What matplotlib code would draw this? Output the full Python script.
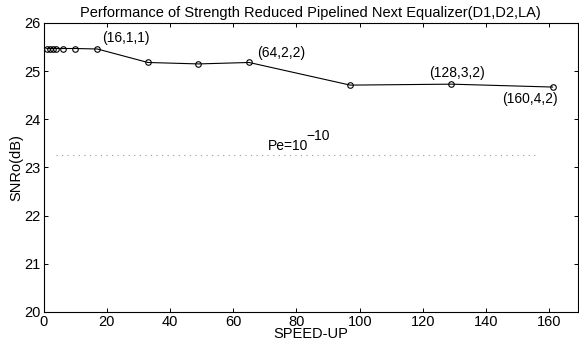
import matplotlib
matplotlib.use('Agg')
import matplotlib.pyplot as plt

plt.rcParams['font.family'] = ['Liberation Sans', 'DejaVu Sans']

# speed-up vs output SNR
speedup = [1, 2, 3, 4, 6, 10, 17, 33, 49, 65, 97, 129, 161]
snr = [25.47, 25.47, 25.47, 25.47, 25.47, 25.47, 25.46, 25.18, 25.15, 25.18, 24.71, 24.73, 24.67]

# labelled points (D1,D2,LA)
labels = ['(16,1,1)', '(64,2,2)', '(128,3,2)', '(160,4,2)']
label_x = [18.5, 67.5, 122, 145]
label_y = [25.68, 25.38, 24.97, 24.42]

# reference level for Pe = 1e-10
pe_x = [4, 156]
pe_level = 23.25

fig = plt.figure(figsize=(5.79, 3.40), dpi=100)
ax = fig.add_axes([0.0753, 0.0824, 0.9227, 0.8500])

ax.plot(speedup, snr, '-o', color='black', linewidth=0.8,
        markersize=4, markerfacecolor='none', markeredgewidth=0.8)
ax.plot(pe_x, [pe_level, pe_level], color='#999999', linewidth=0.8,
        linestyle=(0, (1, 4)))

for t, x, y in zip(labels, label_x, label_y):
    ax.text(x, y, t, fontsize=10, va='center', ha='left')
ax.text(71, 23.45, 'Pe=10', fontsize=10, va='center', ha='left')
ax.text(83, 23.66, '\u221210', fontsize=10, va='center', ha='left')

ax.set_xlim(0, 169)
ax.set_ylim(20, 26)
ax.set_xticks(range(0, 161, 20))
ax.set_yticks(range(20, 27))
ax.tick_params(direction='in', top=True, right=True, length=3, width=0.7,
               labelsize=10.5, pad=2)
for s in ax.spines.values():
    s.set_linewidth(0.8)

ax.set_title('Performance of Strength Reduced Pipelined Next Equalizer(D1,D2,LA)',
             fontsize=10.5, pad=4)
ax.set_xlabel('SPEED-UP', fontsize=10.5, labelpad=-1)
ax.set_ylabel('SNRo(dB)', fontsize=10.5, labelpad=1)

fig.savefig('out.png', dpi=100)
